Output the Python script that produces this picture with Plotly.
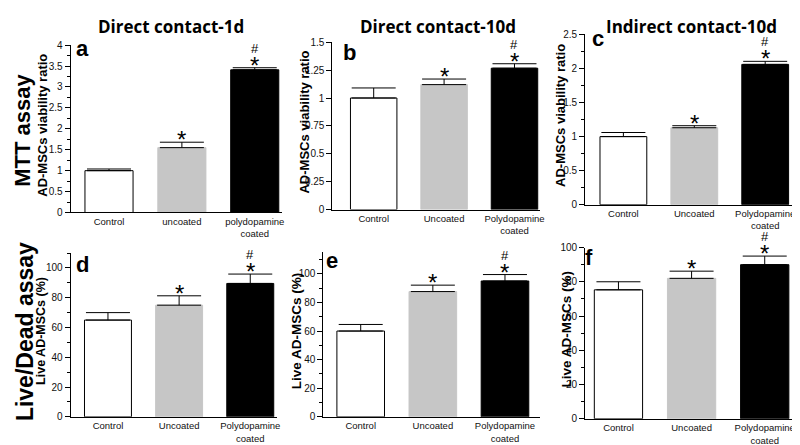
import plotly.graph_objects as go

W, H = 800, 445

# ---------------- data ----------------
cats_a = ["Control", "uncoated", "polydopamine<br>coated"]
cats = ["Control", "Uncoated", "Polydopamine<br>coated"]

mtt_1d = [1.00, 1.55, 3.41]
mtt_1d_err = [0.04, 0.13, 0.05]
mtt_10d = [1.00, 1.12, 1.267]
mtt_10d_err = [0.09, 0.05, 0.04]
mtt_ind = [1.00, 1.13, 2.06]
mtt_ind_err = [0.06, 0.03, 0.045]

live_1d = [65, 75, 89.6]
live_1d_err = [5, 6.3, 6.3]
live_10d = [60, 87.6, 95]
live_10d_err = [4.6, 4.5, 4.5]
live_ind = [75.3, 82, 90]
live_ind_err = [4.7, 4.2, 5]

# significance marks per bar: "" none, "*" vs control, "#*" also vs uncoated
marks = ["", "*", "#*"]

col_titles = ["Direct contact-1d", "Direct contact-10d", "Indirect contact-10d"]
row_titles = ["MTT assay", "Live/Dead assay"]
ytitle_mtt = "AD-MSCs viability ratio"
ytitle_live = "Live AD-MSCs (%)"
letters = ["a", "b", "c", "d", "e", "f"]

bar_colors = ["white", "#c6c6c6", "black"]
bar_lines = ["black", "#c6c6c6", "black"]

FONT = "Liberation Sans, Arial, sans-serif"

# ---------------- panel geometry (pixels) ----------------
panels = [
    dict(vals=mtt_1d, err=mtt_1d_err, cats=cats_a, x=(63, 275), y=(32, 204),
         xr=(-0.526, 2.369), yr=(0, 4), dtick=0.5, minor=0.25,
         ytitle=ytitle_mtt, tx=35, tfs=13, letter=(75, 35)),
    dict(vals=mtt_10d, err=mtt_10d_err, cats=cats, x=(326, 535), y=(29, 201),
         xr=(-0.587, 2.367), yr=(0, 1.5), dtick=0.25, minor=None,
         ytitle=ytitle_mtt, tx=297, tfs=13, letter=(343, 40)),
    dict(vals=mtt_ind, err=mtt_ind_err, cats=cats, x=(580, 795), y=(21, 196),
         xr=(-0.540, 2.477), yr=(0, 2.5), dtick=0.5, minor=0.25,
         ytitle=ytitle_mtt, tx=555, tfs=13, letter=(593, 25)),
    dict(vals=live_1d, err=live_1d_err, cats=cats, x=(63, 270), y=(245.7, 414),
         xr=(-0.524, 2.371), yr=(0, 110), dtick=20, minor=10,
         ytitle=ytitle_live, tx=33, tfs=12.5, letter=(75, 257)),
    dict(vals=live_10d, err=live_10d_err, cats=cats, x=(317, 535), y=(245, 414),
         xr=(-0.517, 2.490), yr=(0, 115), dtick=20, minor=10,
         ytitle=ytitle_live, tx=290, tfs=13.5, letter=(326, 253)),
    dict(vals=live_ind, err=live_ind_err, cats=cats, x=(580, 800), y=(240, 416),
         xr=(-0.456, 2.537), yr=(0, 100), dtick=20, minor=10,
         ytitle=ytitle_live, tx=561, tfs=13.5, letter=(584, 250)),
]

fig = go.Figure()
annotations = []
layout = dict(
    width=W, height=H, margin=dict(l=0, r=0, t=0, b=0),
    paper_bgcolor="white", plot_bgcolor="white", showlegend=False,
    font=dict(family=FONT, color="black", size=10),
)

def px2fx(px):
    return px / W

def py2fy(py):
    return 1 - py / H

for i, p in enumerate(panels):
    n = i + 1
    xa = "x" if n == 1 else f"x{n}"
    ya = "y" if n == 1 else f"y{n}"
    xkey = "xaxis" if n == 1 else f"xaxis{n}"
    ykey = "yaxis" if n == 1 else f"yaxis{n}"
    xs = list(range(len(p["vals"])))
    fig.add_trace(go.Bar(
        x=xs, y=p["vals"], width=0.66, xaxis=xa, yaxis=ya,
        marker=dict(color=bar_colors, line=dict(color=bar_lines, width=1)),
        error_y=dict(type="data", symmetric=False, array=p["err"],
                     arrayminus=[0] * len(p["err"]),
                     color="black", thickness=1, width=22),
        hoverinfo="skip",
    ))
    layout[xkey] = dict(
        domain=[px2fx(p["x"][0]), px2fx(p["x"][1])], anchor=ya,
        range=list(p["xr"]), tickvals=xs, ticktext=p["cats"],
        showline=True, linecolor="black", linewidth=1, ticks="",
        showgrid=False, zeroline=False,
        tickfont=dict(family=FONT, size=9.5, color="#111"),
        fixedrange=True,
    )
    ydict = dict(
        domain=[py2fy(p["y"][1]), py2fy(p["y"][0])], anchor=xa,
        range=list(p["yr"]), dtick=p["dtick"], tick0=0,
        showline=True, linecolor="black", linewidth=1,
        ticks="outside", ticklen=5, tickcolor="black", tickwidth=1,
        showgrid=False, zeroline=False,
        tickfont=dict(family=FONT, size=10, color="#111"),
        fixedrange=True,
    )
    if p["minor"]:
        ydict["minor"] = dict(dtick=p["minor"], ticks="outside", ticklen=3,
                              tickcolor="black", showgrid=False)
    layout[ykey] = ydict

    # y-axis title
    annotations.append(dict(
        xref="paper", yref="paper", x=px2fx(p["tx"]),
        y=py2fy((p["y"][0] + p["y"][1]) / 2 - 4),
        text=f"<b>{p['ytitle']}</b>", textangle=-90, showarrow=False,
        xanchor="center", yanchor="middle",
        font=dict(family=FONT, size=p["tfs"], color="black"),
    ))
    # panel letter
    annotations.append(dict(
        xref="paper", yref="paper", x=px2fx(p["letter"][0]), y=py2fy(p["letter"][1]),
        text=f"<b>{letters[i]}</b>", showarrow=False, xanchor="center", yanchor="middle",
        font=dict(family=FONT, size=22, color="black"),
    ))
    # significance marks
    for j, m in enumerate(marks):
        top = p["vals"][j] + p["err"][j]
        if "*" in m:
            annotations.append(dict(
                xref=xa, yref=ya, x=j, y=top, text="*", showarrow=False,
                xanchor="center", yanchor="bottom", yshift=-13,
                font=dict(family=FONT, size=24, color="black"),
            ))
        if "#" in m:
            annotations.append(dict(
                xref=xa, yref=ya, x=j, y=top, text="#", showarrow=False,
                xanchor="center", yanchor="bottom", yshift=10,
                font=dict(family=FONT, size=13, color="black"),
            ))

# column titles
for t, cx in zip(col_titles, [164, 432, 687]):
    annotations.append(dict(
        xref="paper", yref="paper", x=px2fx(cx), y=py2fy(13),
        text=f"<b>{t}</b>", showarrow=False, xanchor="center", yanchor="middle",
        font=dict(family="Open Sans, sans-serif", size=17, color="black"),
    ))

# row titles
for t, (cx, cy, fs) in zip(row_titles, [(15, 119, 22), (17, 326, 23)]):
    annotations.append(dict(
        xref="paper", yref="paper", x=px2fx(cx), y=py2fy(cy),
        text=f"<b>{t}</b>", textangle=-90, showarrow=False,
        xanchor="center", yanchor="middle",
        font=dict(family=FONT, size=fs, color="black"),
    ))

layout["annotations"] = annotations
fig.update_layout(**layout)
fig.write_html("out.html")
